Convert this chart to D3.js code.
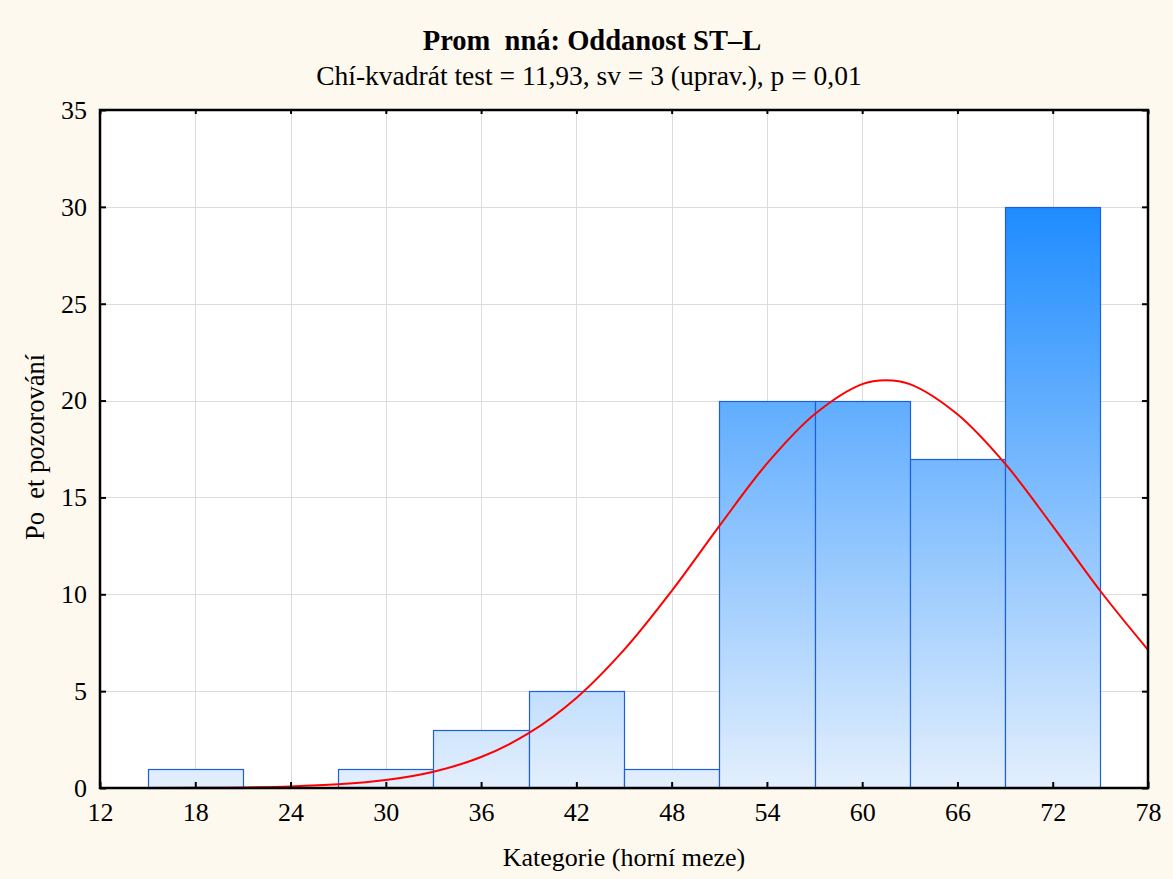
<!DOCTYPE html>
<html>
<head>
<meta charset="utf-8">
<script src="https://cdn.jsdelivr.net/npm/d3@7"></script>
<style>
  html, body { margin: 0; padding: 0; background: #fef9ef; }
  svg { display: block; }
  text { font-family: "Liberation Serif", "Times New Roman", serif; fill: #000; white-space: pre; }
</style>
</head>
<body>
<svg id="chart" width="1173" height="879"></svg>
<script>
// ---- data ----
const binStarts = [15, 21, 27, 33, 39, 45, 51, 57, 63, 69];
const binWidth = 6;
const counts = [1, 0, 1, 3, 5, 1, 20, 20, 17, 30];
const xTicks = [12, 18, 24, 30, 36, 42, 48, 54, 60, 66, 72, 78];
const yTicks = [0, 5, 10, 15, 20, 25, 30, 35];
// expected-normal curve
const curveX = [12, 15, 18, 21, 24, 27, 30, 33, 36, 39, 42, 45, 48, 51, 54, 57, 60, 61.5, 63, 66, 69, 72, 75, 78];
const curveY = [0.00, 0.00, 0.01, 0.03, 0.08, 0.19, 0.41, 0.84, 1.60, 2.83, 4.65, 7.13, 10.17, 13.52, 16.74, 19.29, 20.85, 21.05, 20.85, 19.29, 16.74, 13.52, 10.17, 7.13];
const titleText = "Prom  nná: Oddanost ST–L";
const subtitleText = "Chí-kvadrát test = 11,93, sv = 3 (uprav.), p = 0,01";
const xLabel = "Kategorie (horní meze)";
const yLabel = "Po  et pozorování";

// ---- layout ----
const svg = d3.select("#chart");
const W = 1173, H = 879;
const m = { left: 100, right: 1148, top: 110, bottom: 788 };

svg.append("rect").attr("width", W).attr("height", H).attr("fill", "#fef9ef");

const x = d3.scaleLinear().domain([12, 78]).range([m.left, m.right]);
const y = d3.scaleLinear().domain([0, 35]).range([m.bottom, m.top]);

// plot background
svg.append("rect")
  .attr("x", m.left).attr("y", m.top)
  .attr("width", m.right - m.left).attr("height", m.bottom - m.top)
  .attr("fill", "#ffffff");

// gradient
const defs = svg.append("defs");
const grad = defs.append("linearGradient")
  .attr("id", "barGrad")
  .attr("gradientUnits", "userSpaceOnUse")
  .attr("x1", 0).attr("x2", 0)
  .attr("y1", y(0)).attr("y2", y(30));
grad.append("stop").attr("offset", "0%").attr("stop-color", "#e3effd");
grad.append("stop").attr("offset", "100%").attr("stop-color", "#1e8cff");

defs.append("clipPath").attr("id", "plotClip")
  .append("rect")
  .attr("x", m.left).attr("y", m.top)
  .attr("width", m.right - m.left).attr("height", m.bottom - m.top);

// gridlines
const grid = svg.append("g").attr("stroke", "#dcdcdc").attr("stroke-width", 1);
grid.selectAll("line.vx").data(xTicks.slice(1, -1)).join("line")
  .attr("x1", d => Math.round(x(d)) + 0.5).attr("x2", d => Math.round(x(d)) + 0.5)
  .attr("y1", m.top).attr("y2", m.bottom);
grid.selectAll("line.hy").data(yTicks.slice(1, -1)).join("line")
  .attr("y1", d => Math.round(y(d)) + 0.5).attr("y2", d => Math.round(y(d)) + 0.5)
  .attr("x1", m.left).attr("x2", m.right);

// bars
const bars = binStarts.map((s, i) => ({ s, c: counts[i] })).filter(d => d.c > 0);
svg.append("g").selectAll("rect").data(bars).join("rect")
  .attr("x", d => Math.round(x(d.s)) + 0.5)
  .attr("y", d => Math.round(y(d.c)) + 0.5)
  .attr("width", d => Math.round(x(d.s + binWidth)) - Math.round(x(d.s)))
  .attr("height", d => Math.round(y(0)) - Math.round(y(d.c)))
  .attr("fill", "url(#barGrad)")
  .attr("stroke", "#1f5fd6")
  .attr("stroke-width", 1.2);

// curve
const pts = curveX.map((v, i) => [v, curveY[i]]);
svg.append("path")
  .datum(pts)
  .attr("clip-path", "url(#plotClip)")
  .attr("fill", "none")
  .attr("stroke", "#ff0000")
  .attr("stroke-width", 2)
  .attr("d", d3.line().x(d => x(d[0])).y(d => y(d[1])).curve(d3.curveCatmullRom.alpha(0.5)));

// axes (ticks inward)
const fontSize = 26;
const axB = svg.append("g").attr("transform", `translate(0,${m.bottom})`)
  .call(d3.axisBottom(x).tickValues(xTicks).tickSize(-6).tickPadding(15).tickFormat(d3.format("d")));
const axT = svg.append("g").attr("transform", `translate(0,${m.top})`)
  .call(d3.axisTop(x).tickValues(xTicks).tickSize(-4).tickFormat(""));
const axL = svg.append("g").attr("transform", `translate(${m.left},0)`)
  .call(d3.axisLeft(y).tickValues(yTicks).tickSize(-6).tickPadding(13).tickFormat(d3.format("d")));
const axR = svg.append("g").attr("transform", `translate(${m.right},0)`)
  .call(d3.axisRight(y).tickValues(yTicks).tickSize(-6).tickFormat(""));

[axB, axT, axL, axR].forEach(a => {
  a.select(".domain").remove();
  a.selectAll(".tick line").attr("stroke", "#000").attr("stroke-width", 2);
  a.selectAll("text").attr("font-size", fontSize)
    .attr("font-family", "'Liberation Serif', 'Times New Roman', serif").attr("fill", "#000");
});
axB.selectAll("text").attr("dy", "0.71em");

// frame
svg.append("rect")
  .attr("x", m.left).attr("y", m.top)
  .attr("width", m.right - m.left).attr("height", m.bottom - m.top)
  .attr("fill", "none").attr("stroke", "#000").attr("stroke-width", 2.5);

// titles
svg.append("text").attr("x", 592).attr("y", 50)
  .attr("text-anchor", "middle").attr("font-size", 28.5).attr("font-weight", "bold")
  .text(titleText);
svg.append("text").attr("x", 589).attr("y", 85)
  .attr("text-anchor", "middle").attr("font-size", 27.5)
  .text(subtitleText);
svg.append("text").attr("x", (m.left + m.right) / 2).attr("y", 866)
  .attr("text-anchor", "middle").attr("font-size", 26)
  .text(xLabel);
svg.append("text")
  .attr("transform", `translate(44,447) rotate(-90)`)
  .attr("text-anchor", "middle").attr("font-size", 26.5)
  .text(yLabel);
</script>
</body>
</html>
